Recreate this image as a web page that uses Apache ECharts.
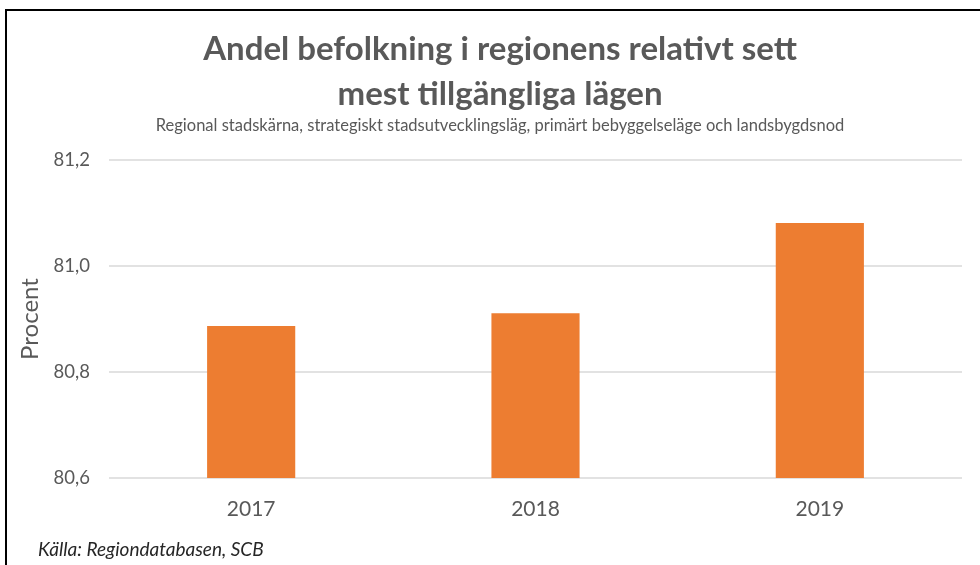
<!DOCTYPE html>
<html>
<head>
<meta charset="utf-8">
<script src="https://cdn.jsdelivr.net/npm/echarts@6/dist/echarts.min.js"></script>
<style>
    html, body { margin: 0; padding: 0; background: #fff; }
    #chart { width: 980px; height: 565px; }
</style>
</head>
<body>
<div id="chart"></div>
<script>
const years = ['2017', '2018', '2019'];
const andel = [80.887, 80.911, 81.081];
const yTicks = [80.6, 80.8, 81.0, 81.2];

const chart = echarts.init(document.getElementById('chart'));

const textColor = '#595959';
const font = 'Lato, "Open Sans", sans-serif';

// decimal comma like the original
function fmt(v) {
    return v.toFixed(1).replace('.', ',');
}

chart.setOption({
    animation: false,
    backgroundColor: '#fff',
    textStyle: { fontFamily: font },
    title: [
        {
            text: 'Andel befolkning i regionens relativt sett\nmest tillgängliga lägen',
            left: 495,
            textAlign: 'center',
            top: 22,
            textStyle: {
                color: textColor,
                fontSize: 33,
                fontWeight: 'bold',
                fontFamily: font,
                lineHeight: 45
            }
        },
        {
            text: 'Regional stadskärna, strategiskt stadsutvecklingsläg, primärt bebyggelseläge och landsbygdsnod',
            left: 495,
            textAlign: 'center',
            top: 112,
            textStyle: { color: textColor, fontSize: 16.5, fontWeight: 'normal', fontFamily: font }
        },
        {
            text: 'Källa: Regiondatabasen, SCB',
            left: 33,
            top: 535,
            textStyle: { color: '#262626', fontSize: 19, fontStyle: 'italic', fontWeight: 'normal', fontFamily: font }
        }
    ],
    graphic: [
        {
            type: 'polyline',
            shape: { points: [[6, 565], [6, 10], [980, 10]] },
            style: { stroke: '#000', lineWidth: 2, fill: null }
        }
    ],
    grid: { left: 109, right: 18, top: 160, bottom: 87 },
    xAxis: {
        type: 'category',
        data: years,
        axisLine: { show: false },
        axisTick: { show: false },
        axisLabel: { color: textColor, fontSize: 21, margin: 21 }
    },
    yAxis: {
        type: 'value',
        min: yTicks[0],
        max: yTicks[yTicks.length - 1],
        interval: 0.2,
        name: 'Procent',
        nameLocation: 'middle',
        nameGap: 59,
        nameTextStyle: { color: textColor, fontSize: 24 },
        axisLine: { show: false },
        axisTick: { show: false },
        splitLine: { lineStyle: { color: '#D9D9D9', width: 1.5 } },
        axisLabel: { color: textColor, fontSize: 18.5, margin: 19, formatter: fmt }
    },
    series: [
        {
            type: 'bar',
            data: andel,
            barWidth: '31%',
            itemStyle: { color: '#ED7D31' }
        }
    ]
});
</script>
</body>
</html>
